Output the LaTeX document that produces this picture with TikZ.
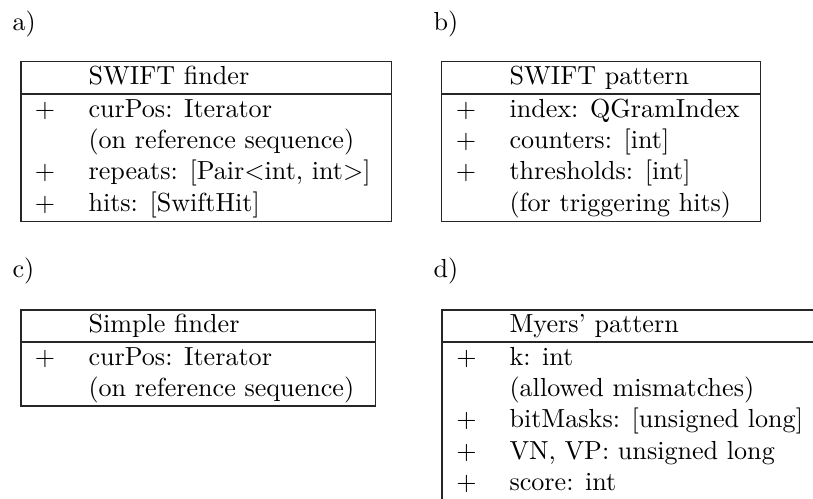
\documentclass[tikz,border=0pt]{standalone}
\begin{document}
\begin{tikzpicture}[x=0.383pt,y=-0.383pt,
  boxline/.style={draw=black!85,line width=0.45pt},
  txt/.style={anchor=base west,inner sep=0pt,font=\fontsize{10}{12}\selectfont},
  plus/.style={anchor=base,inner sep=0pt,font=\fontsize{10}{12}\selectfont}]
\clip (0,0) rectangle (813,498);
\useasboundingbox (0,0) rectangle (813,498);

% labels
\node[txt] (la) at (12,30) {a)};
\node[txt] (lb) at (433,30) {b)};
\node[txt] (lc) at (12,277) {c)};
\node[txt] (ld) at (433,277) {d)};

% box a
\draw[boxline] (21,61.7) rectangle (391.7,221.7);
\draw[boxline] (21,94) -- (391.7,94);
\node[txt] (ah) at (88,84.2) {SWIFT finder};
\node[plus] (ap1) at (45,117) {$+$};
\node[txt] (a1) at (88,117) {curPos: Iterator};
\node[txt] (a2) at (88,148.4) {(on reference sequence)};
\node[plus] (ap3) at (45,179.8) {$+$};
\node[txt] (a3) at (88,179.8) {repeats: [Pair$<$int, int$>$]};
\node[plus] (ap4) at (45,211.2) {$+$};
\node[txt] (a4) at (88,211.2) {hits: [SwiftHit]};

% box b
\draw[boxline] (441.7,61.7) rectangle (760.7,221.7);
\draw[boxline] (441.7,94) -- (760.7,94);
\node[txt] (bh) at (509,84.2) {SWIFT pattern};
\node[plus] (bp1) at (466,117) {$+$};
\node[txt] (b1) at (509,117) {index: QGramIndex};
\node[plus] (bp2) at (466,148.4) {$+$};
\node[txt] (b2) at (509,148.4) {counters: [int]};
\node[plus] (bp3) at (466,179.8) {$+$};
\node[txt] (b3) at (509,179.8) {thresholds: [int]};
\node[txt] (b4) at (509,211.2) {(for triggering hits)};

% box c
\draw[boxline] (21,310) rectangle (375.7,406);
\draw[boxline] (21,342) -- (375.7,342);
\node[txt] (ch) at (88,332.5) {Simple finder};
\node[plus] (cp1) at (45,365) {$+$};
\node[txt] (c1) at (88,365) {curPos: Iterator};
\node[txt] (c2) at (88,396.4) {(on reference sequence)};

% box d (clipped at right and bottom)
\draw[boxline] (442,310) rectangle (840,510);
\draw[boxline] (442,342) -- (840,342);
\node[txt] (dh) at (509,332.5) {Myers' pattern};
\node[plus] (dp1) at (466.5,365) {$+$};
\node[txt] (d1) at (509,365) {k: int};
\node[txt] (d2) at (509,396.4) {(allowed mismatches)};
\node[plus] (dp3) at (466.5,427.8) {$+$};
\node[txt] (d3) at (509,427.8) {bitMasks: [unsigned long]};
\node[plus] (dp4) at (466.5,459.2) {$+$};
\node[txt] (d4) at (509,459.2) {VN, VP: unsigned long};
\node[plus] (dp5) at (466.5,490.6) {$+$};
\node[txt] (d5) at (509,490.6) {score: int};
\end{tikzpicture}
\end{document}
